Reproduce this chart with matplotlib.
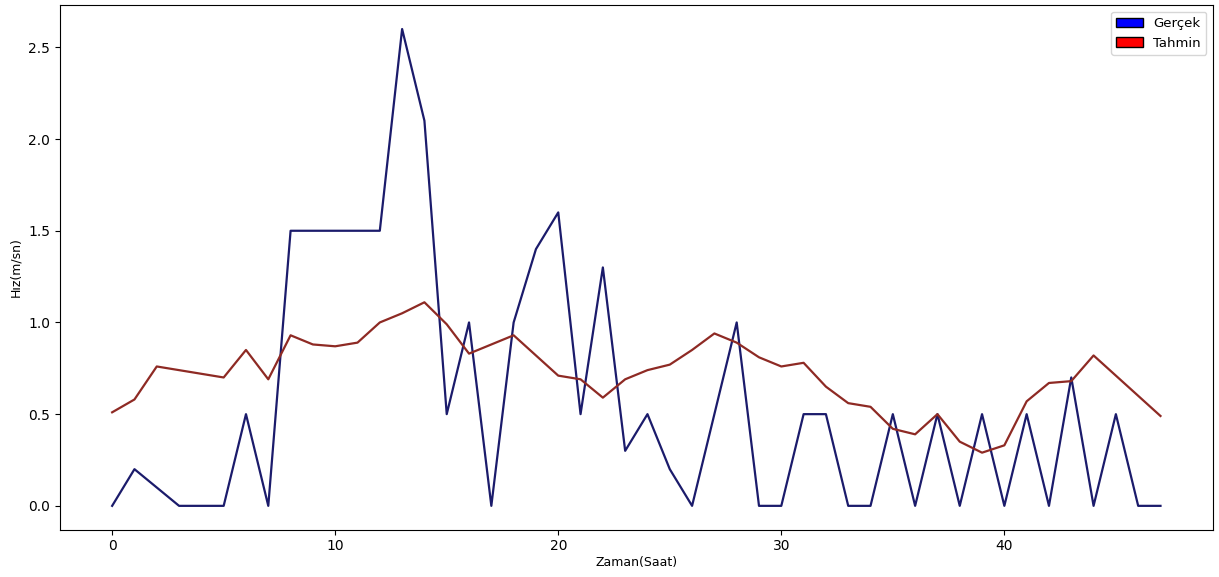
import matplotlib
matplotlib.use("Agg")
import matplotlib.pyplot as plt
import matplotlib.patches as mpatches

# saat bazinda gercek ve tahmin edilen hiz degerleri
saat = list(range(48))
gercek = [0.0, 0.2, 0.1, 0.0, 0.0, 0.0, 0.5, 0.0, 1.5, 1.5,
          1.5, 1.5, 1.5, 2.6, 2.1, 0.5, 1.0, 0.0, 1.0, 1.4,
          1.6, 0.5, 1.3, 0.3, 0.5, 0.2, 0.0, 0.5, 1.0, 0.0,
          0.0, 0.5, 0.5, 0.0, 0.0, 0.5, 0.0, 0.5, 0.0, 0.5,
          0.0, 0.5, 0.0, 0.7, 0.0, 0.5, 0.0, 0.0]
tahmin = [0.51, 0.58, 0.76, 0.74, 0.72, 0.70, 0.85, 0.69, 0.93, 0.88,
          0.87, 0.89, 1.00, 1.05, 1.11, 0.99, 0.83, 0.88, 0.93, 0.82,
          0.71, 0.69, 0.59, 0.69, 0.74, 0.77, 0.85, 0.94, 0.89, 0.81,
          0.76, 0.78, 0.65, 0.56, 0.54, 0.42, 0.39, 0.50, 0.35, 0.29,
          0.33, 0.57, 0.67, 0.68, 0.82, 0.71, 0.60, 0.49]

fig = plt.figure(figsize=(12.19, 5.77), dpi=100)
ax = fig.add_axes([0.049, 0.082, 0.946, 0.909])

ax.plot(saat, gercek, color="#1b1b6b", linewidth=1.6)
ax.plot(saat, tahmin, color="#8e2a24", linewidth=1.6)

ax.set_xlabel("Zaman(Saat)", fontsize=9, labelpad=2)
ax.set_ylabel("Hız(m/sn)", fontsize=9)
ax.tick_params(axis="both", labelsize=10)

handles = [
    mpatches.Patch(facecolor="blue", edgecolor="black", label="Gerçek"),
    mpatches.Patch(facecolor="red", edgecolor="black", label="Tahmin"),
]
ax.legend(handles=handles, loc="upper right", fontsize=9.5)

fig.savefig("out.png", dpi=100, facecolor="white")
plt.close(fig)
